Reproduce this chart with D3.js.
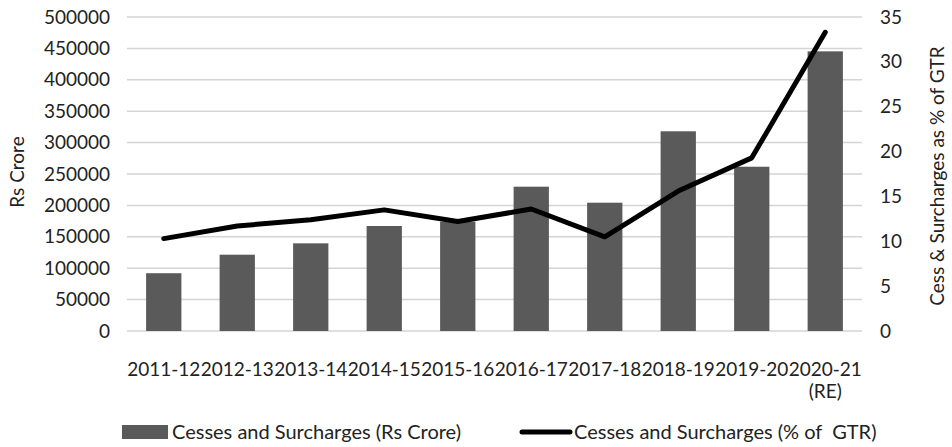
<!DOCTYPE html>
<html><head><meta charset="utf-8">
<script src="https://cdn.jsdelivr.net/npm/d3@7"></script>
<style>
body{margin:0;background:#fff;}
text{font-family:Lato, "Open Sans", sans-serif;fill:#222;}
</style></head>
<body><svg id="c" width="952" height="447"></svg>
<script>
const categories = ["2011-12","2012-13","2013-14","2014-15","2015-16","2016-17","2017-18","2018-19","2019-20","2020-21 (RE)"];
const cessRsCrore = [92000,121500,139600,167200,174000,229800,204300,318000,261600,445300];
const cessPctGTR = [10.3,11.7,12.4,13.5,12.2,13.6,10.5,15.6,19.3,33.3];
const leftTicks = [0,50000,100000,150000,200000,250000,300000,350000,400000,450000,500000];
const rightTicks = [0,5,10,15,20,25,30,35];

const svg = d3.select("#c");
const m = {l:127, r:862, t:17, b:331};
const x = d3.scaleBand().domain(categories).range([m.l, m.r]).paddingInner(0.52).paddingOuter(0.26);
const yL = d3.scaleLinear().domain([0,500000]).range([m.b, m.t]);
const yR = d3.scaleLinear().domain([0,35]).range([m.b, m.t]);

// gridlines
svg.append("g").selectAll("line").data(leftTicks).join("line")
  .attr("x1", m.l).attr("x2", m.r)
  .attr("y1", d=>yL(d)).attr("y2", d=>yL(d))
  .attr("stroke", "#d4d4d4").attr("stroke-width", 1.5);

// bars
svg.append("g").selectAll("rect").data(categories).join("rect")
  .attr("x", d=>x(d)).attr("width", x.bandwidth())
  .attr("y", (d,i)=>yL(cessRsCrore[i]))
  .attr("height", (d,i)=>m.b - yL(cessRsCrore[i]))
  .attr("fill", "#5a5a5a");

// line
const line = d3.line().x((d,i)=>x(categories[i]) + x.bandwidth()/2).y(d=>yR(d));
svg.append("path").datum(cessPctGTR).attr("d", line)
  .attr("fill","none").attr("stroke","#000").attr("stroke-width",5)
  .attr("stroke-linejoin","round").attr("stroke-linecap","round");

// left axis
const axL = d3.axisLeft(yL).tickValues(leftTicks).tickSize(0).tickPadding(17).tickFormat(d=>String(d));
const gL = svg.append("g").attr("transform",`translate(${m.l},0)`).call(axL);
gL.select(".domain").remove();
gL.selectAll("text").attr("font-size", 19).attr("font-family","Lato").attr("fill","#222");

// right axis
const axR = d3.axisRight(yR).tickValues(rightTicks).tickSize(0).tickPadding(18).tickFormat(d=>String(d));
const gR = svg.append("g").attr("transform",`translate(${m.r},0)`).call(axR);
gR.select(".domain").remove();
gR.selectAll("text").attr("font-size", 19).attr("font-family","Lato").attr("fill","#222");

// bottom axis
const axB = d3.axisBottom(x).tickSize(0).tickPadding(0);
const gB = svg.append("g").attr("transform",`translate(0,${m.b})`).call(axB);
gB.select(".domain").remove();
gB.selectAll("text").attr("font-size", 19).attr("font-family","Lato").attr("fill","#222")
  .attr("dy", null).attr("y", 0)
  .each(function(d){
    const t = d3.select(this); t.text(null);
    const parts = d.split(" ");
    parts.forEach((p,k)=>{ t.append("tspan").attr("x",0).attr("y", 45 + k*22).text(p); });
  });

// axis titles
svg.append("text").attr("transform","translate(24,172) rotate(-90)")
  .attr("text-anchor","middle").attr("font-size",19).text("Rs Crore");
svg.append("text").attr("transform","translate(944,176) rotate(-90)")
  .attr("text-anchor","middle").attr("font-size",19).text("Cess & Surcharges as % of GTR");

// legend
const lg = svg.append("g");
lg.append("rect").attr("x",122).attr("y",425).attr("width",46).attr("height",14).attr("fill","#5a5a5a");
lg.append("text").attr("x",172).attr("y",439).attr("font-size",20).text("Cesses and Surcharges (Rs Crore)");
lg.append("line").attr("x1",522).attr("x2",570).attr("y1",432).attr("y2",432)
  .attr("stroke","#000").attr("stroke-width",5).attr("stroke-linecap","round");
lg.append("text").attr("x",574).attr("y",439).attr("font-size",20).style("white-space","pre").text("Cesses and Surcharges (% of  GTR)");
</script></body></html>
